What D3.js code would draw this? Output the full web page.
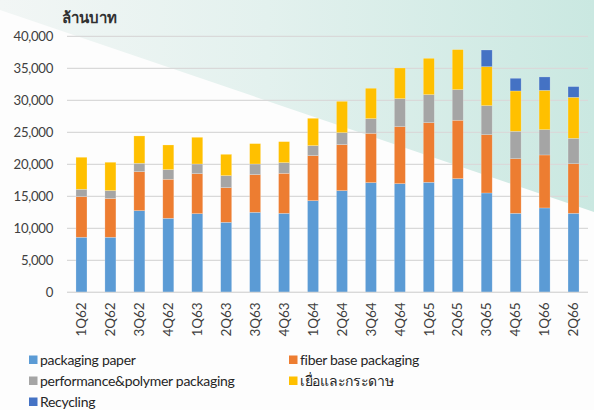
<!DOCTYPE html>
<html>
<head>
<meta charset="utf-8">
<script src="https://cdn.jsdelivr.net/npm/d3@7"></script>
<style>
  html, body { margin: 0; padding: 0; background: #ffffff; }
  svg { display: block; }
  text { font-family: Lato, "Noto Sans", "DejaVu Sans", sans-serif; }
</style>
</head>
<body>
<svg id="chart" width="594" height="410"></svg>
<script>
const categories = ["1Q62","2Q62","3Q62","4Q62","1Q63","2Q63","3Q63","4Q63","1Q64","2Q64","3Q64","4Q64","1Q65","2Q65","3Q65","4Q65","1Q66","2Q66"];
const packagingPaper = [8600,8600,12760,11560,12290,10940,12500,12340,14320,15890,17140,16980,17190,17760,15520,12340,13180,12340];
const fiberBase      = [6350,6050,6090,6100,6250,5410,5890,6250,7030,7180,7700,8910,9320,9120,9120,8550,8280,7760];
const performance    = [1150,1250,1310,1510,1510,1880,1660,1670,1570,1880,2300,4370,4380,4790,4530,4270,3960,3960];
const pulpPaper      = [5000,4420,4270,3850,4170,3330,3180,3280,4270,4890,4740,4790,5670,6250,6090,6300,6140,6410];
const recycling      = [0,0,0,0,0,0,0,0,0,0,0,0,0,0,2600,1980,2090,1670];
const yTicks = [0,5000,10000,15000,20000,25000,30000,35000,40000];
const unitLabel = "ล้านบาท";

const seriesDefs = [
  {key:"pp",  name:"packaging paper",                values:packagingPaper, color:"#5B9BD5"},
  {key:"fb",  name:"fiber base packaging",           values:fiberBase,      color:"#ED7D31"},
  {key:"pf",  name:"performance&polymer packaging",  values:performance,    color:"#A5A5A5"},
  {key:"pu",  name:"เยื่อและกระดาษ",                  values:pulpPaper,      color:"#FFC000"},
  {key:"rc",  name:"Recycling",                      values:recycling,      color:"#4472C4"}
];

const rows = categories.map((c,i) => {
  const r = {cat:c};
  seriesDefs.forEach(s => r[s.key] = s.values[i]);
  return r;
});

const svg = d3.select("#chart");
const W = 594, H = 410;

// background
const defs = svg.append("defs");
const grad = defs.append("linearGradient").attr("id","bg").attr("x1","0").attr("y1","0").attr("x2","1").attr("y2","0");
grad.append("stop").attr("offset","0").attr("stop-color","#f2f6f5");
grad.append("stop").attr("offset","0.45").attr("stop-color","#e3f1ee");
grad.append("stop").attr("offset","1").attr("stop-color","#cae8e1");
svg.append("rect").attr("width",W).attr("height",H).attr("fill","#fdfdfd");
svg.append("polygon").attr("points",`0,0 ${W},0 ${W},212 0,10`).attr("fill","url(#bg)");

const y = d3.scaleLinear().domain([0,40000]).range([292.3,36.3]);
const x = d3.scaleBand().domain(categories).range([67,588]).paddingInner(0.62).paddingOuter(0.31);

// gridlines
svg.append("g").selectAll("line").data(yTicks).join("line")
  .attr("x1",67).attr("x2",588)
  .attr("y1",d=>y(d)).attr("y2",d=>y(d))
  .attr("stroke","#d9d9d9").attr("stroke-width",1.2);

// y axis labels
const yAxis = d3.axisLeft(y).tickValues(yTicks).tickFormat(d3.format(",")).tickSize(0).tickPadding(0);
const yg = svg.append("g").attr("transform","translate(53,0)").call(yAxis);
yg.select(".domain").remove();
yg.selectAll("text").attr("font-size",13.2).attr("letter-spacing","-0.3px").attr("fill","#404040").attr("dy","0.34em");

// bars
const stack = d3.stack().keys(seriesDefs.map(s=>s.key));
const stacked = stack(rows);
svg.append("g").selectAll("g").data(stacked).join("g")
  .attr("fill",(d,i)=>seriesDefs[i].color)
  .selectAll("rect").data(d=>d.filter(p=>p[1]-p[0]>0)).join("rect")
  .attr("x",d=>x(d.data.cat))
  .attr("width",x.bandwidth())
  .attr("y",d=>y(d[1]))
  .attr("height",d=>y(d[0])-y(d[1]))
  .attr("stroke","rgba(255,255,255,0.35)").attr("stroke-width",0.6);

// x axis baseline
svg.append("line").attr("x1",67).attr("x2",588).attr("y1",y(0)).attr("y2",y(0))
  .attr("stroke","#d9d9d9").attr("stroke-width",1.2);

// x labels
const xAxis = d3.axisBottom(x).tickSize(0).tickPadding(0);
const xg = svg.append("g").attr("transform",`translate(0,${y(0)})`).call(xAxis);
xg.select(".domain").remove();
xg.selectAll("text")
  .attr("font-size",13.5).attr("fill","#404040")
  .attr("text-anchor","end")
  .attr("transform","rotate(-90)")
  .attr("x",-10).attr("y",0).attr("dy","0.35em");

// unit label
svg.append("text").attr("x",62).attr("y",23).attr("font-size",15).attr("font-weight",600)
  .attr("fill","#303030").text(unitLabel);

// legend
const legendPos = [
  {x:29, y:360},{x:289, y:360},
  {x:29, y:381},{x:289, y:381},
  {x:29, y:402}
];
const lg = svg.append("g").selectAll("g").data(seriesDefs).join("g")
  .attr("transform",(d,i)=>`translate(${legendPos[i].x},${legendPos[i].y})`);
lg.append("rect").attr("x",0).attr("y",-4.5).attr("width",8.5).attr("height",8.5).attr("fill",d=>d.color);
lg.append("text").attr("x",11).attr("y",0).attr("dy","0.35em").attr("font-size",14)
  .attr("letter-spacing","-0.3px")
  .attr("fill","#262626").text(d=>d.name);
</script>
</body>
</html>
